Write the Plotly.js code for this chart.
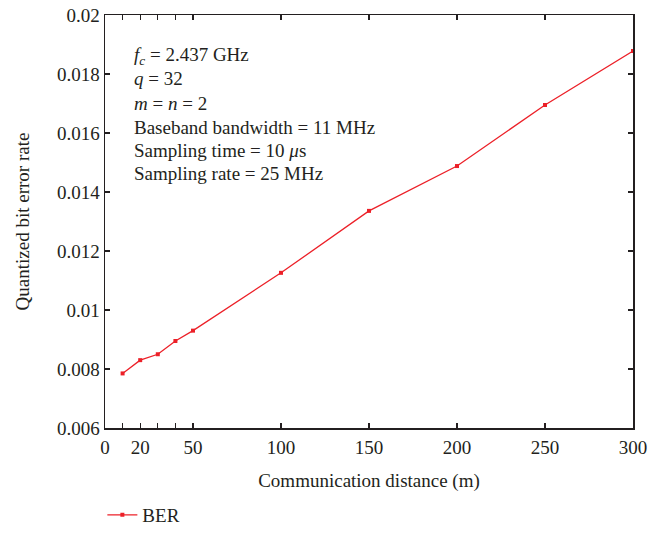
<!DOCTYPE html>
<html>
<head>
<meta charset="utf-8">
<script src="https://cdn.plot.ly/plotly-3.0.1.min.js"></script>
<style>html,body{margin:0;padding:0;background:#fff;}#chart{width:670px;height:534px;}</style>
</head>
<body>
<div id="chart"></div>
<script>
var distance = [10, 20, 30, 40, 50, 100, 150, 200, 250, 300];
var ber = [0.00785, 0.0083, 0.0085, 0.00895, 0.0093, 0.01126, 0.01336, 0.01488, 0.01695, 0.01878];
var xTickVals = [0, 20, 50, 100, 150, 200, 250, 300];
var xTickText = ["0", "20", "50", "100", "150", "200", "250", "300"];
var xMinorTickVals = [10, 30, 40];
var yTickVals = [0.006, 0.008, 0.01, 0.012, 0.014, 0.016, 0.018, 0.02];
var yTickText = ["0.006", "0.008", "0.01", "0.012", "0.014", "0.016", "0.018", "0.02"];
var infoLines = [
  "<i>f</i><sub><i>c</i></sub> = 2.437 GHz",
  "<i>q</i> = 32",
  "<i>m</i> = <i>n</i> = 2",
  "Baseband bandwidth = 11 MHz",
  "Sampling time = 10 <i>μ</i>s",
  "Sampling rate = 25 MHz"
];

var FONT = "Liberation Serif, Times New Roman, serif";
var INK = "#231f20";
var red = "rgb(236,32,40)";

var trace = {
  x: distance, y: ber, type: "scatter", mode: "lines+markers", name: "BER",
  line: {color: red, width: 1.3},
  marker: {color: red, symbol: "square", size: 4}
};

var plotTop = 15, plotBottom = 428;
var lineY = [56, 79, 103, 127, 150, 173];
var annotations = infoLines.map(function (t, i) {
  return {
    text: t, xref: "paper", yref: "paper",
    x: 0.052, y: (plotBottom - lineY[i]) / (plotBottom - plotTop),
    xanchor: "left", yanchor: "middle", showarrow: false,
    font: {family: FONT, size: 19, color: INK}
  };
});

var axisCommon = {
  showgrid: false, zeroline: false, showline: true, linecolor: INK, linewidth: 1.5,
  mirror: "ticks", ticks: "inside", ticklen: 5, tickwidth: 1.2, tickcolor: INK,
  tickfont: {family: FONT, size: 19, color: INK}
};

var layout = {
  width: 670, height: 534,
  margin: {l: 105, r: 37, t: 15, b: 106},
  paper_bgcolor: "#fff", plot_bgcolor: "#fff",
  showlegend: true,
  legend: {orientation: "h", xref: "paper", x: -0.005, xanchor: "left",
           yref: "container", y: -0.016, yanchor: "bottom",
           font: {family: FONT, size: 19, color: INK}},
  xaxis: Object.assign({}, axisCommon, {
    range: [0, 300], tickmode: "array", tickvals: xTickVals, ticktext: xTickText,
    minor: {tickmode: "array", tickvals: xMinorTickVals, ticks: "inside", ticklen: 5, tickwidth: 1.2, tickcolor: INK, showgrid: false},
    ticklabelstandoff: 2,
    title: {text: "Communication distance (m)", font: {family: FONT, size: 19, color: INK}, standoff: 16}
  }),
  yaxis: Object.assign({}, axisCommon, {
    range: [0.006, 0.02], tickmode: "array", tickvals: yTickVals, ticktext: yTickText,
    title: {text: "Quantized bit error rate", font: {family: FONT, size: 19, color: INK}, standoff: 22}
  }),
  annotations: annotations
};

Plotly.newPlot("chart", [trace], layout, {displayModeBar: false, staticPlot: true});
</script>
</body>
</html>
